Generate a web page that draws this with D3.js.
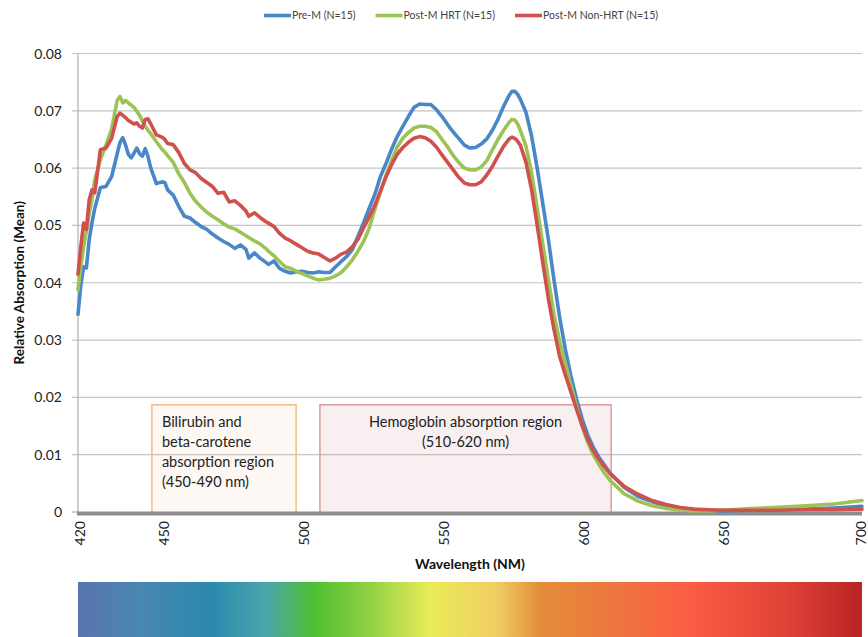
<!DOCTYPE html>
<html>
<head>
<meta charset="utf-8">
<script src="https://cdn.jsdelivr.net/npm/d3@7"></script>
<style>
  html, body { margin: 0; padding: 0; background: #ffffff; }
  svg { display: block; font-family: Lato, "Open Sans", sans-serif; }
</style>
</head>
<body>
<svg id="chart" width="868" height="637"></svg>
<script>
// ---------------- DATA ----------------
const wavelengths = [
  420,421,422,423,424,425,426,428,430,432,
  434,435,436,437,438,439,440,441,442,443,
  444,445,446,448,450,451,452,454,456,458,
  460,462,464,466,468,470,472,474,476,478,
  480,481,483,485,487,488,490,492,494,496,
  498,500,502,504,506,508,510,512,514,516,
  518,520,522,524,526,528,530,532,534,536,
  538,540,542,544,546,548,550,552,554,556,
  558,560,562,564,566,568,570,572,574,575,
  576,577,578,580,582,584,586,588,590,592,
  594,596,598,600,602,604,606,608,610,615,
  620,625,630,635,640,645,650,660,670,680,
  690,700
];
const preM = [
  .0345,.0395,.0428,.0426,.0475,.0505,.0530,.0566,.0568,.0585,
  .0625,.0645,.0653,.0640,.0624,.0618,.0626,.0635,.0625,.0621,
  .0634,.0620,.0600,.0573,.0576,.0575,.0562,.0553,.0533,.0516,
  .0513,.0505,.0498,.0493,.0485,.0478,.0472,.0467,.0460,.0466,
  .0458,.0443,.0452,.0443,.0436,.0432,.0438,.0425,.0420,.0417,
  .0419,.0420,.0418,.0417,.0419,.0418,.0418,.0428,.0437,.0446,
  .0458,.0481,.0505,.0530,.0554,.0585,.0608,.0633,.0655,.0673,
  .0690,.0706,.0712,.0711,.0711,.0702,.0690,.0676,.0663,.0652,
  .0640,.0635,.0636,.0642,.0651,.0666,.0685,.0708,.0727,.0734,
  .0734,.0729,.0720,.0697,.0656,.0600,.0538,.0475,.0405,.0340,
  .0285,.0238,.0198,.0163,.0135,.0113,.0096,.0082,.0068,.0043,
  .0027,.0018,.0011,.0007,.0004,.0003,.0002,.0003,.0004,.0005,
  .0007,.0010
];
const postMHRT = [
  .0388,.0428,.0463,.0490,.0520,.0545,.0580,.0615,.0640,.0668,
  .0718,.0725,.0714,.0718,.0714,.0710,.0706,.0699,.0692,.0682,
  .0673,.0666,.0660,.0646,.0633,.0628,.0622,.0610,.0590,.0575,
  .0556,.0542,.0532,.0523,.0516,.0510,.0503,.0497,.0494,.0488,
  .0482,.0479,.0473,.0468,.0460,.0455,.0447,.0437,.0428,.0425,
  .0420,.0416,.0412,.0408,.0405,.0406,.0408,.0412,.0418,.0428,
  .0440,.0455,.0472,.0495,.0528,.0558,.0587,.0613,.0637,.0652,
  .0662,.0670,.0673,.0673,.0671,.0664,.0650,.0637,.0622,.0610,
  .0600,.0597,.0597,.0602,.0613,.0632,.0650,.0666,.0680,.0685,
  .0684,.0677,.0666,.0638,.0592,.0530,.0468,.0405,.0345,.0298,
  .0260,.0222,.0185,.0150,.0122,.0100,.0083,.0068,.0055,.0032,
  .0019,.0011,.0006,.0003,.0002,.0002,.0003,.0006,.0008,.0011,
  .0014,.0020
];
const postMNonHRT = [
  .0415,.0463,.0504,.0493,.0545,.0562,.0557,.0632,.0635,.0652,
  .0690,.0696,.0692,.0688,.0683,.0680,.0677,.0679,.0673,.0670,
  .0685,.0686,.0677,.0658,.0654,.0650,.0643,.0641,.0627,.0608,
  .0597,.0592,.0582,.0575,.0568,.0556,.0558,.0541,.0543,.0535,
  .0525,.0516,.0522,.0514,.0507,.0504,.0498,.0486,.0478,.0473,
  .0467,.0461,.0455,.0452,.0450,.0444,.0438,.0443,.0450,.0454,
  .0463,.0476,.0496,.0515,.0535,.0560,.0585,.0606,.0624,.0636,
  .0645,.0652,.0655,.0653,.0647,.0637,.0623,.0610,.0597,.0584,
  .0574,.0571,.0571,.0576,.0588,.0603,.0621,.0638,.0651,.0654,
  .0652,.0647,.0640,.0610,.0562,.0500,.0435,.0372,.0318,.0272,
  .0240,.0210,.0180,.0152,.0127,.0107,.0092,.0079,.0067,.0045,
  .0031,.0020,.0013,.0008,.0005,.0004,.0003,.0003,.0003,.0004,
  .0004,.0005
];
const seriesNames = ["Pre-M (N=15)", "Post-M HRT (N=15)", "Post-M Non-HRT (N=15)"];
const yTicks = [0, 0.01, 0.02, 0.03, 0.04, 0.05, 0.06, 0.07, 0.08];
const xTicks = [420, 450, 500, 550, 600, 650, 700];
const xTitle = "Wavelength (NM)";
const yTitle = "Relative Absorption (Mean)";
// annotation regions (wavelength from/to, absorption top)
const regionLabels = [
  ["Bilirubin and", "beta-carotene", "absorption region", "(450-490 nm)"],
  ["Hemoglobin absorption region", "(510-620 nm)"]
];
const regionFrom = [446.4, 506.4];
const regionTo = [497.9, 610.4];
const regionTop = [0.0187, 0.0187];

// ---------------- STYLE / LAYOUT ----------------
(function () {
const colors = ["#4A87C8", "#9DC357", "#D0504C"];
const regionStroke = ["#F2B77A", "#D99494"];
const regionFill = ["rgba(240,200,160,0.13)", "rgba(200,140,140,0.13)"];
const spectrumStops = [
  [0, "#5A74AE"], [0.075, "#4A86B0"], [0.17, "#2A8AAD"], [0.24, "#4AA6AC"],
  [0.30, "#4CBF30"], [0.37, "#8FD044"], [0.45, "#EAEC5A"], [0.535, "#F0CC62"],
  [0.59, "#E48C3A"], [0.67, "#EC7A3E"], [0.78, "#FC5C44"], [0.9, "#E04438"], [1, "#B82424"]
];

const svg = d3.select("#chart");
const pL = 78, pR = 862, pT = 53.5, pB = 512;

const x = d3.scaleLinear().domain([420, 700]).range([pL, pR]);
const y = d3.scaleLinear().domain([0, 0.08]).range([pB, pT]);

// gridlines + y ticks
svg.append("g").selectAll("line").data(yTicks.filter(d => d > 0)).join("line")
  .attr("x1", pL - 6).attr("x2", pR)
  .attr("y1", d => y(d)).attr("y2", d => y(d))
  .attr("stroke", "#C4C4C4").attr("stroke-width", 1.2);

// y axis line
svg.append("line").attr("x1", pL).attr("x2", pL).attr("y1", pT).attr("y2", pB)
  .attr("stroke", "#B0B0B0").attr("stroke-width", 1.2);
svg.append("line").attr("x1", pL - 6).attr("x2", pL).attr("y1", pB).attr("y2", pB)
  .attr("stroke", "#B0B0B0").attr("stroke-width", 1.2);

// y tick labels
svg.append("g").selectAll("text").data(yTicks).join("text")
  .attr("x", 62).attr("y", d => y(d)).attr("dy", "0.36em")
  .attr("text-anchor", "end").attr("font-size", 14).attr("fill", "#222")
  .text(d => d === 0 ? "0" : d.toFixed(2));

// region boxes
regionLabels.forEach((lines, i) => {
  const x0 = x(regionFrom[i]), x1 = x(regionTo[i]);
  const y0 = y(regionTop[i]), y1 = y(0) + 2;
  svg.append("rect").attr("x", x0).attr("y", y0).attr("width", x1 - x0).attr("height", y1 - y0)
    .attr("fill", regionFill[i]).attr("stroke", regionStroke[i]).attr("stroke-width", 1.4);
  const t = svg.append("text").attr("font-size", 14.5).attr("fill", "#222");
  if (i === 0) {
    lines.forEach((s, k) => t.append("tspan").attr("x", x0 + 10).attr("y", y0 + 22 + k * 20).text(s));
  } else {
    lines.forEach((s, k) => t.append("tspan").attr("x", (x0 + x1) / 2).attr("text-anchor", "middle")
      .attr("y", y0 + 22 + k * 20).text(s));
  }
});

// bottom axis (thick gray)
svg.append("line").attr("x1", pL - 1).attr("x2", pR).attr("y1", pB + 1.5).attr("y2", pB + 1.5)
  .attr("stroke", "#8E8E8E").attr("stroke-width", 4);

// series lines
const series = [preM, postMHRT, postMNonHRT];
const line = d3.line().x((d, i) => x(wavelengths[i])).y(d => y(d)).curve(d3.curveLinear);
svg.append("g").selectAll("path").data(series).join("path")
  .attr("d", d => line(d)).attr("fill", "none")
  .attr("stroke", (d, i) => colors[i]).attr("stroke-width", 3.6)
  .attr("stroke-linejoin", "round").attr("stroke-linecap", "round");

// x tick labels (rotated)
svg.append("g").selectAll("text").data(xTicks).join("text")
  .attr("transform", d => `translate(${Math.min(x(d) + 2, pR - 1)},${pB + 9}) rotate(-90)`)
  .attr("dy", "0.34em").attr("text-anchor", "end")
  .attr("font-size", 14).attr("fill", "#222").text(d => d);

// axis titles
svg.append("text").attr("x", 470).attr("y", 569).attr("text-anchor", "middle")
  .attr("font-size", 14).attr("font-weight", "bold").attr("fill", "#111").text(xTitle);
svg.append("text").attr("transform", `translate(24,${(pT + pB) / 2}) rotate(-90)`)
  .attr("text-anchor", "middle").attr("font-size", 13.5).attr("font-weight", "bold")
  .attr("fill", "#111").text(yTitle);

// legend
const lg = svg.append("g").attr("font-size", 10.5).attr("fill", "#444");
let cx = 0;
seriesNames.forEach((name, i) => {
  const g = lg.append("g");
  g.append("line").attr("x1", 0).attr("x2", 27).attr("y1", 0).attr("y2", 0)
    .attr("stroke", colors[i]).attr("stroke-width", 3.6);
  const t = g.append("text").attr("x", 28).attr("dy", "0.35em").text(name);
  const w = 28 + t.node().getComputedTextLength();
  g.attr("transform", `translate(${cx},0)`);
  cx += w + 20;
});
const totalW = cx - 20;
lg.attr("transform", `translate(${461 - totalW / 2},15.5)`);

// spectrum bar
const defs = svg.append("defs");
const grad = defs.append("linearGradient").attr("id", "spec").attr("x1", "0%").attr("x2", "100%");
grad.selectAll("stop").data(spectrumStops).join("stop")
  .attr("offset", d => d[0]).attr("stop-color", d => d[1]);
svg.append("rect").attr("x", pL).attr("y", 582).attr("width", pR - pL).attr("height", 55)
  .attr("fill", "url(#spec)");
})();
</script>
</body>
</html>
